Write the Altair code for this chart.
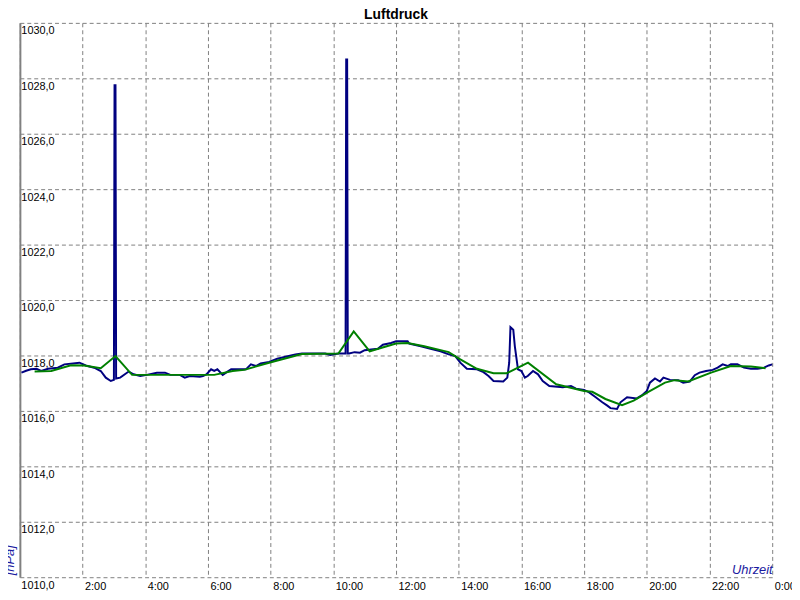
import altair as alt
import pandas as pd

# Blue: measured air pressure (hours of day, hPa)
blue_hours = [0.05, 0.2, 0.35, 0.53, 0.68, 0.9, 1.21, 1.42, 1.9, 2.1, 2.37, 2.58, 2.74, 2.9, 3.0,
              3.02, 3.05, 3.07, 3.2, 3.47, 3.63, 3.84, 4.05, 4.37, 4.63, 4.8, 5.1, 5.26, 5.42, 5.74, 5.84,
              5.95, 6.1, 6.2, 6.3, 6.47, 6.6, 6.74, 7.21, 7.37, 7.53, 7.68, 7.95, 8.21, 8.58, 8.79,
              9.0, 9.74, 9.9, 10.16, 10.39, 10.41, 10.44, 10.46, 10.5, 10.68, 10.85, 11.0, 11.42, 11.58,
              11.84, 12.0, 12.37, 12.42, 12.79, 13.1, 13.42, 13.68, 13.89, 14.05, 14.26, 14.58,
              14.79, 14.95, 15.11, 15.42, 15.55, 15.61, 15.65, 15.74, 15.79, 15.89, 16.0, 16.11,
              16.2, 16.37, 16.53, 16.68, 16.89, 17.32, 17.58, 17.74, 18.0, 18.16, 18.37, 18.58,
              18.74, 18.84, 19.05, 19.16, 19.37, 19.68, 19.84, 20.0, 20.1, 20.26, 20.42, 20.53,
              20.74, 21.0, 21.16, 21.37, 21.53, 21.68, 21.89, 22.1, 22.26, 22.42, 22.58, 22.68,
              22.89, 23.1, 23.32, 23.53, 23.74, 23.89, 24.0]
blue_hpa = [1017.38, 1017.45, 1017.5, 1017.52, 1017.44, 1017.52, 1017.56, 1017.68, 1017.74, 1017.64,
            1017.56, 1017.44, 1017.2, 1017.08, 1017.12, 1027.75, 1027.75, 1017.17, 1017.2, 1017.42, 1017.32,
            1017.26, 1017.3, 1017.38, 1017.38, 1017.3, 1017.3, 1017.2, 1017.26, 1017.23, 1017.26,
            1017.32, 1017.5, 1017.44, 1017.5, 1017.3, 1017.4, 1017.5, 1017.5, 1017.68, 1017.62,
            1017.71, 1017.77, 1017.88, 1017.98, 1018.04, 1018.07, 1018.07, 1018.02, 1018.07, 1018.07,
            1028.68, 1028.68, 1018.07, 1018.07, 1018.12, 1018.1, 1018.19, 1018.24, 1018.39, 1018.45, 1018.51,
            1018.51, 1018.43, 1018.33, 1018.24, 1018.15, 1018.04, 1017.98, 1017.74, 1017.52, 1017.5,
            1017.4, 1017.26, 1017.08, 1017.06, 1017.2, 1017.74, 1019.02, 1018.93, 1018.33, 1017.5,
            1017.44, 1017.2, 1017.26, 1017.44, 1017.32, 1017.08, 1016.9, 1016.85, 1016.9, 1016.8,
            1016.76, 1016.67, 1016.49, 1016.31, 1016.19, 1016.1, 1016.07, 1016.31, 1016.49, 1016.45,
            1016.56, 1016.72, 1017.02, 1017.17, 1017.06, 1017.2, 1017.12, 1017.11, 1017.02, 1017.06,
            1017.29, 1017.38, 1017.44, 1017.48, 1017.56, 1017.68, 1017.62, 1017.68, 1017.68, 1017.56,
            1017.52, 1017.52, 1017.56, 1017.64, 1017.68]

# Green: smoothed pressure
green_hours = [0.47, 1.0, 1.63, 2.05, 2.58, 3.05, 3.58, 6.2, 6.79, 7.16, 7.95, 9.0, 10.16, 10.65,
               11.16, 12.0, 12.37, 12.9, 13.68, 14.05, 14.58, 15.11, 15.53, 16.21, 17.11, 18.0,
               18.26, 18.68, 19.21, 19.58, 20.05, 20.58, 20.89, 21.32, 22.05, 22.68, 23.32, 23.79]
green_hpa = [1017.42, 1017.44, 1017.65, 1017.64, 1017.54, 1017.98, 1017.3, 1017.3, 1017.44, 1017.48,
             1017.74, 1018.05, 1018.07, 1018.87, 1018.15, 1018.43, 1018.45, 1018.33, 1018.12, 1017.86,
             1017.52, 1017.36, 1017.36, 1017.74, 1016.96, 1016.72, 1016.69, 1016.43, 1016.21, 1016.37,
             1016.69, 1017.02, 1017.11, 1017.06, 1017.38, 1017.62, 1017.6, 1017.54]

x_ticks = [0, 2, 4, 6, 8, 10, 12, 14, 16, 18, 20, 22, 24]
y_ticks = [1010, 1012, 1014, 1016, 1018, 1020, 1022, 1024, 1026, 1028, 1030]

chart_title = ["Luftdruck"]
y_title = ["[hPa]"]

df_b = pd.DataFrame({"t": blue_hours, "p": blue_hpa})
df_g = pd.DataFrame({"t": green_hours, "p": green_hpa})

FONT = "Liberation Sans"
TCOL = "#1a1aa0"

x_enc = alt.X(
    "t:Q",
    scale=alt.Scale(domain=[0, 24], nice=False, zero=False),
    axis=alt.Axis(
        values=x_ticks,
        labelExpr="datum.value == 0 ? '' : (datum.value % 24) + ':00'",
        labelAlign="left", labelBaseline="top", labelOffset=2, labelPadding=3,
        labelFont=FONT, labelFontSize=11, labelColor="black", labelOverlap=False,
        labelFlush=False,
        ticks=False, tickSize=0, domain=False,
        grid=True, gridDash=[4, 3], gridColor="#808080", gridOpacity=1, gridWidth=1,
        title="Uhrzeit", titleFont=FONT, titleFontSize=13, titleFontStyle="italic",
        titleFontWeight="normal", titleColor=TCOL, titleX=760, titleY=-4,
        titleAlign="right", titleBaseline="alphabetic", titleAngle=0,
    ),
)
y_enc = alt.Y(
    "p:Q",
    scale=alt.Scale(domain=[1010, 1030], nice=False, zero=False),
    axis=alt.Axis(
        values=y_ticks,
        labelExpr="replace(format(datum.value, '.1f'), '.', ',')",
        labelAlign="left", labelBaseline="top", labelOffset=2, labelPadding=-1,
        labelFont=FONT, labelFontSize=11, labelColor="black", labelOverlap=False,
        labelFlush=False,
        ticks=False, tickSize=0, domain=True, domainColor="#808080", domainWidth=2,
        grid=True, gridDash=[4, 3], gridColor="#808080", gridOpacity=1, gridWidth=1,
        title=None,
    ),
)

blue = alt.Chart(df_b).mark_line(color="#000080", strokeWidth=2, interpolate="linear").encode(x=x_enc, y=y_enc)
green = alt.Chart(df_g).mark_line(color="#008000", strokeWidth=2, interpolate="linear").encode(x="t:Q", y="p:Q")

title_txt = alt.Chart(pd.DataFrame({"label": chart_title})).mark_text(
    font=FONT, fontSize=14, fontWeight="bold", color="black", align="center", baseline="alphabetic"
).encode(x=alt.value(380), y=alt.value(-4), text="label:N")

ytitle_txt = alt.Chart(pd.DataFrame({"label": y_title})).mark_text(
    font=FONT, fontSize=13, fontStyle="italic", color=TCOL, align="left", baseline="middle", angle=270
).encode(x=alt.value(-10), y=alt.value(558), text="label:N")

chart = alt.layer(blue, green, title_txt, ytitle_txt).properties(
    width=760,
    height=560,
    autosize=alt.AutoSizeParams(type="none"),
    padding={"left": 12, "top": 12, "right": 20, "bottom": 20},
    background="white",
).configure_view(strokeWidth=0)

chart.save("out.html", embed_options={"renderer": "svg", "actions": False})
